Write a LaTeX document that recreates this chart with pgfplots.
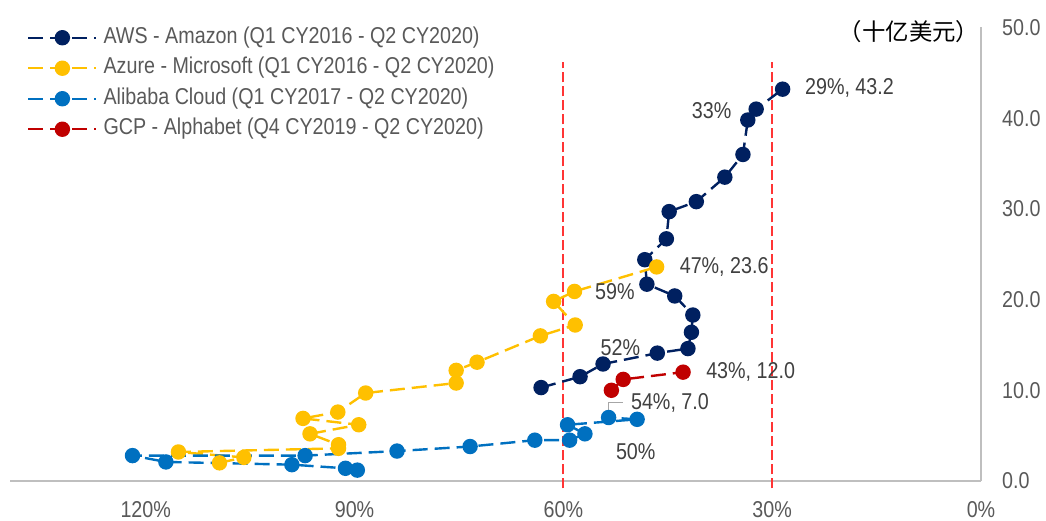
\documentclass[border=0pt]{standalone}
\usepackage{pgfplots}
\pgfplotsset{compat=1.18}
\usepackage{fontspec}
\setmainfont{Liberation Sans}[FakeStretch=0.86]
\newfontfamily\cjk{Noto Sans CJK SC}
\definecolor{aws}{HTML}{002060}
\definecolor{azure}{HTML}{FFC000}
\definecolor{ali}{HTML}{0070C0}
\definecolor{gcp}{HTML}{C00000}
\definecolor{txt}{HTML}{595959}
\definecolor{lbl}{HTML}{404040}
\definecolor{axgray}{HTML}{BFBFBF}
\definecolor{vred}{HTML}{FF3535}
\definecolor{leader}{HTML}{A6A6A6}
\newcommand{\fs}{\fontsize{23}{27}\selectfont}
\begin{document}
\begin{tikzpicture}
\useasboundingbox (0,0) rectangle (1046bp,521bp);
\begin{axis}[
  at={(10bp,40bp)}, anchor=south west, scale only axis,
  width=971bp, height=453.5bp,
  x dir=reverse, xmin=0, xmax=139.5, ymin=0, ymax=50,
  axis x line*=bottom, axis y line*=right,
  axis line style={axgray, line width=1.5bp},
  major tick length=0pt, tick style={draw=none},
  xtick={0,30,60,90,120}, xticklabels={0\%,30\%,60\%,90\%,120\%},
  ytick={0,10,20,30,40,50}, yticklabels={0.0,10.0,20.0,30.0,40.0,50.0},
  ticklabel style={font=\fs, text=txt},
  xticklabel style={anchor=north, inner sep=0pt, yshift=-20bp},
  yticklabel style={anchor=west, inner sep=0pt, xshift=21bp},
  clip=false,
  every axis plot/.append style={line width=2.4bp, dash pattern=on 15bp off 7bp},
  legend style={draw=none, fill=none, at={(axis description cs:0.0175,1.001)}, anchor=north west,
    font=\fs, text=txt, inner sep=0pt, row sep=9.5bp,
    nodes={inner sep=0pt, text height=16bp, text depth=5bp}},
  legend cell align=left,
  legend image code/.code={\draw[#1,mark repeat=2,mark phase=2] plot coordinates {(0bp,0bp) (34bp,0bp) (68bp,0bp)};},
]
\addplot[forget plot, vred, line width=1.8bp, dash pattern=on 10bp off 4bp] coordinates {(60,-0.8) (60,46.2)};
\addplot[forget plot, vred, line width=1.8bp, dash pattern=on 10bp off 4bp] coordinates {(30,-0.8) (30,46.2)};

\addplot[aws, mark=*, mark size=6.5bp, mark options={solid, fill=aws, draw=aws}] coordinates {
(63.2,10.3) (57.6,11.5) (54.3,12.9) (46.5,14.1) (42.1,14.6) (41.6,16.4) (41.4,18.3) (44.0,20.4) (48.0,21.7)
(48.3,24.4) (45.2,26.7) (44.8,29.7) (40.9,30.8) (36.8,33.5) (34.2,36.0) (33.5,39.8) (32.3,41.0) (28.5,43.2)};
\addlegendentry{\hspace{6bp}AWS - Amazon (Q1 CY2016 - Q2 CY2020)}
\addplot[azure, mark=*, mark size=6.5bp, mark options={solid, fill=azure, draw=azure}] coordinates {
(109.4,2.0) (105.9,2.6) (115.3,3.2) (92.3,3.6) (92.3,4.0) (96.4,5.2) (89.4,6.2) (97.4,6.9) (92.4,7.6)
(88.4,9.7) (75.4,10.8) (75.4,12.2) (72.4,13.1) (63.3,16.0) (58.3,17.2) (61.4,19.8) (58.4,20.9) (46.6,23.6)};
\addlegendentry{\hspace{6bp}Azure - Microsoft (Q1 CY2016 - Q2 CY2020)}
\addplot[ali, mark=*, mark size=6.5bp, mark options={solid, fill=ali, draw=ali}] coordinates {
(89.6,1.2) (91.3,1.4) (99.0,1.8) (117.1,2.1) (121.9,2.8) (97.1,2.8) (83.9,3.3) (73.4,3.8) (64.1,4.5)
(59.1,4.5) (56.9,5.2) (59.4,6.2) (49.4,6.8) (53.5,7.0)};
\addlegendentry{\hspace{6bp}Alibaba Cloud (Q1 CY2017 - Q2 CY2020)}
\addplot[gcp, mark=*, mark size=6.5bp, mark options={solid, fill=gcp, draw=gcp}] coordinates {
(53.1,10.0) (51.4,11.2) (42.8,12.0)};
\addlegendentry{\hspace{6bp}GCP - Alphabet (Q4 CY2019 - Q2 CY2020)}

\draw[leader, line width=1.5bp] (axis cs:53.5,7.4) -- (axis cs:53.5,8.68) -- (axis cs:51.5,8.68);

\begin{scope}[every node/.style={font=\fs, text=lbl, inner sep=0pt}]
\node[anchor=west] at (axis cs:25.3,43.3) {29\%, 43.2};
\node at (axis cs:38.7,40.8) {33\%};
\node[anchor=west] at (axis cs:43.3,23.6) {47\%, 23.6};
\node at (axis cs:52.6,20.9) {59\%};
\node at (axis cs:51.8,14.7) {52\%};
\node[anchor=west] at (axis cs:39.5,12.0) {43\%, 12.0};
\node[anchor=west] at (axis cs:50.3,8.6) {54\%, 7.0};
\node at (axis cs:49.6,3.2) {50\%};
\end{scope}
\node[anchor=east, font=\cjk\fontsize{23.5}{27}\selectfont, text=black, inner sep=0pt] at (axis cs:0.2,49.6) {（十亿美元）};
\end{axis}
\end{tikzpicture}
\end{document}
